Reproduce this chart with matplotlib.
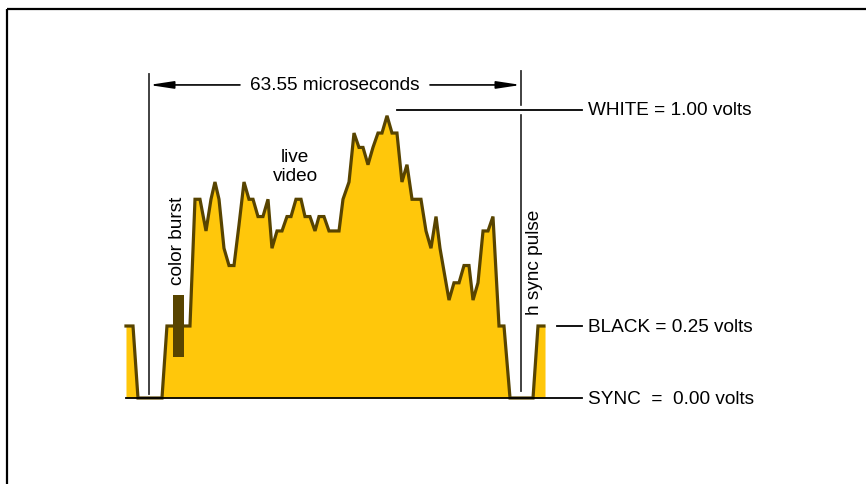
import matplotlib
matplotlib.use("Agg")
import matplotlib.pyplot as plt
import matplotlib.patheffects as pe

plt.rcParams['font.family'] = ['Liberation Sans', 'DejaVu Sans']

# one scan line of composite video: time in microseconds, level in volts
time_us = [-3.93, -2.73, -1.88, 2.22, 3.07, 7.00, 7.86, 8.71, 9.74, 10.59,
           11.27, 11.96, 12.81, 13.67, 14.52, 15.37, 16.23, 17.08, 17.77, 18.62,
           19.47, 20.33, 21.01, 21.87, 22.72, 23.57, 24.26, 25.11, 25.97, 26.65,
           27.50, 28.36, 29.04, 29.89, 30.75, 32.46, 33.14, 34.17, 35.02, 35.87,
           36.56, 37.41, 38.26, 39.12, 39.80, 40.66, 41.51, 42.36, 43.21, 44.07,
           44.93, 46.46, 47.32, 48.17, 49.03, 49.71, 51.25, 52.10, 52.96, 53.81,
           54.66, 55.35, 56.20, 57.06, 57.91, 58.76, 59.79, 60.64, 61.67, 65.60,
           66.45, 67.47, 67.65]
volts = [0.25, 0.25, 0.00, 0.00, 0.25, 0.25, 0.69, 0.69, 0.58, 0.69,
         0.75, 0.69, 0.52, 0.46, 0.46, 0.60, 0.75, 0.69, 0.69, 0.63,
         0.63, 0.69, 0.52, 0.58, 0.58, 0.63, 0.63, 0.69, 0.69, 0.63,
         0.63, 0.58, 0.63, 0.63, 0.58, 0.58, 0.69, 0.75, 0.92, 0.87,
         0.87, 0.81, 0.87, 0.92, 0.92, 0.98, 0.92, 0.92, 0.75, 0.81,
         0.69, 0.69, 0.58, 0.52, 0.63, 0.52, 0.34, 0.40, 0.40, 0.46,
         0.46, 0.34, 0.40, 0.58, 0.58, 0.63, 0.25, 0.25, 0.00, 0.00,
         0.25, 0.25, 0.25]

# colour burst block (time span, volt span)
burst_t = [4.10, 5.98]
burst_v = [0.142, 0.358]

line_period = 63.55  # microseconds
levels = {'WHITE = 1.00 volts': 1.00,
          'BLACK = 0.25 volts': 0.25,
          'SYNC  =  0.00 volts': 0.00}

fill_col = '#FFC70B'
edge_col = '#584400'
fs = 13.7

fig = plt.figure(figsize=(8.66, 4.85), dpi=100)
ax = fig.add_axes([0, 0, 1, 1])
ax.set_xlim(-25.45, 122.48)
ax.set_ylim(-0.2986, 1.3854)
ax.axis('off')

# frame (top and left edges only)
ax.plot([7.5 / 866, 1], [1 - 9.5 / 485, 1 - 9.5 / 485], color='black', lw=1.6,
        transform=ax.transAxes, solid_capstyle='butt')
ax.plot([7.5 / 866, 7.5 / 866], [0, 1 - 9.5 / 485], color='black', lw=1.6,
        transform=ax.transAxes, solid_capstyle='butt')

# period markers
ax.plot([0, 0], [0.014, 1.125], color='#333333', lw=1.3, zorder=1)
ax.plot([line_period, line_period], [0.024, 1.135], color='#333333', lw=1.3, zorder=1)

# waveform
ax.fill_between(time_us, volts, 0, color=fill_col, lw=0, zorder=2)
ax.plot(time_us[:-1], volts[:-1], color=edge_col, lw=2.3, zorder=3,
        solid_joinstyle='miter')
ax.fill_between(burst_t, burst_v[0], burst_v[1], color=edge_col, lw=0, zorder=4)

# level lines and labels
ax.plot([time_us[0], 73.97], [0, 0], color='black', lw=1.3, zorder=3)
ax.plot([42.36, 73.97], [1.0, 1.0], color='black', lw=1.3, zorder=5,
        path_effects=[pe.Stroke(linewidth=6, foreground='white'), pe.Normal()])
ax.plot([69.70, 73.97], [0.25, 0.25], color='black', lw=1.3, zorder=5)
for label, v in levels.items():
    ax.text(74.99, v, label, fontsize=fs, ha='left', va='center')

# period dimension
arrow = dict(arrowstyle='-|>,head_length=1.45,head_width=0.22', color='black',
             lw=1.2, mutation_scale=10, shrinkA=0, shrinkB=0)
ax.annotate('', xy=(0, 1.087), xytext=(15.54, 1.087), arrowprops=arrow)
ax.annotate('', xy=(line_period, 1.087), xytext=(48.0, 1.087), arrowprops=arrow)
ax.text(31.8, 1.087, '63.55 microseconds', fontsize=fs, ha='center', va='center')

ax.text(25.0, 0.806, 'live\nvideo', fontsize=fs, ha='center', va='center',
        linespacing=1.1)
ax.text(4.8, 0.548, 'color burst', fontsize=fs, ha='center', va='center',
        rotation=90)
ax.text(65.9, 0.475, 'h sync pulse', fontsize=fs, ha='center', va='center',
        rotation=90)

fig.savefig('out.png', dpi=100)
